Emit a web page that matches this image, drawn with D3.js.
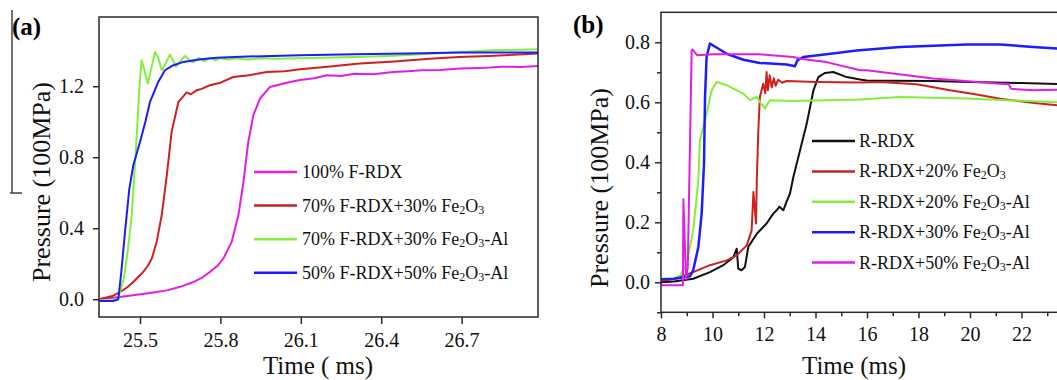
<!DOCTYPE html>
<html>
<head>
<meta charset="utf-8">
<script src="https://cdn.jsdelivr.net/npm/d3@7"></script>
<style>
body { margin: 0; background: #fff; }
svg { display: block; font-family: "Liberation Serif", "Times New Roman", serif; }
</style>
</head>
<body>
<svg id="chart" width="1057" height="380"></svg>
<script>
// ---- panel (a): F-RDX mixtures, time in ms, pressure in 100MPa
const a100_t = [25.347, 25.40, 25.475, 25.55, 25.60, 25.65, 25.699, 25.73, 25.761, 25.79, 25.811, 25.842, 25.867, 25.886, 25.904, 25.923, 25.948, 25.985, 26.047, 26.097, 26.15, 26.197, 26.25, 26.3, 26.37, 26.445, 26.5, 26.55, 26.62, 26.694, 26.77, 26.85, 26.92, 26.985]
const a100_p = [0.0, 0.008, 0.022, 0.038, 0.05, 0.07, 0.097, 0.12, 0.154, 0.19, 0.229, 0.323, 0.473, 0.661, 0.886, 1.037, 1.131, 1.196, 1.22, 1.235, 1.245, 1.262, 1.258, 1.27, 1.268, 1.28, 1.285, 1.29, 1.292, 1.30, 1.302, 1.31, 1.309, 1.314]

const a70fe_t = [25.347, 25.40, 25.425, 25.45, 25.475, 25.50, 25.512, 25.53, 25.544, 25.562, 25.581, 25.60, 25.618, 25.643, 25.66, 25.674, 25.69, 25.711, 25.73, 25.761, 25.8, 25.848, 25.9, 25.973, 26.04, 26.097, 26.2, 26.32, 26.45, 26.58, 26.69, 26.8, 26.985]
const a70fe_p = [0.0, 0.02, 0.04, 0.065, 0.097, 0.135, 0.154, 0.19, 0.229, 0.323, 0.473, 0.699, 0.943, 1.11, 1.14, 1.165, 1.155, 1.177, 1.185, 1.206, 1.22, 1.252, 1.26, 1.28, 1.285, 1.295, 1.31, 1.328, 1.34, 1.355, 1.365, 1.37, 1.384]

const a70al_t = [25.347, 25.40, 25.418, 25.44, 25.455, 25.469, 25.485, 25.498, 25.506, 25.515, 25.529, 25.542, 25.556, 25.568, 25.581, 25.596, 25.612, 25.623, 25.634, 25.650, 25.668, 25.685, 25.70, 25.72, 25.74, 25.76, 25.78, 25.80, 25.83, 25.86, 25.90, 25.95, 26.0, 26.1, 26.3, 26.45, 26.6, 26.82, 26.985]
const a70al_p = [-0.005, -0.005, 0.0, 0.12, 0.28, 0.47, 0.85, 1.2, 1.346, 1.30, 1.215, 1.30, 1.393, 1.36, 1.29, 1.33, 1.378, 1.345, 1.31, 1.34, 1.371, 1.345, 1.335, 1.36, 1.34, 1.362, 1.345, 1.358, 1.35, 1.358, 1.35, 1.357, 1.355, 1.358, 1.365, 1.372, 1.385, 1.403, 1.408]

const a50al_t = [25.347, 25.40, 25.419, 25.43, 25.444, 25.46, 25.475, 25.50, 25.52, 25.537, 25.568, 25.593, 25.62, 25.662, 25.72, 25.786, 25.9, 26.097, 26.3, 26.5, 26.7, 26.985]
const a50al_p = [-0.01, -0.01, 0.0, 0.15, 0.379, 0.62, 0.755, 0.886, 1.0, 1.11, 1.224, 1.29, 1.315, 1.337, 1.35, 1.36, 1.367, 1.375, 1.38, 1.385, 1.39, 1.39]

const legendA = ["100% F-RDX", "70% F-RDX+30% Fe2O3", "70% F-RDX+30% Fe2O3-Al", "50% F-RDX+50% Fe2O3-Al"]
const colorsA = ["#e01ee6", "#cf2020", "#80f03a", "#1c1cff"]
const xTicksA = [25.5, 25.8, 26.1, 26.4, 26.7]
const yTicksA = [0.0, 0.4, 0.8, 1.2]

// ---- panel (b): R-RDX mixtures
const bRdx_t = [8, 8.5, 9.25, 9.9, 10.42, 10.81, 10.94, 11.0, 11.13, 11.26, 11.39, 11.72, 12.1, 12.36, 12.49, 12.6, 12.75, 12.88, 13.01, 13.14, 13.4, 13.66, 13.92, 14.11, 14.37, 14.69, 15.21, 15.73, 15.99, 17, 18.57, 20, 22, 24]
const bRdx_p = [0.0, 0.003, 0.012, 0.034, 0.057, 0.084, 0.112, 0.046, 0.04, 0.051, 0.118, 0.162, 0.196, 0.229, 0.24, 0.252, 0.24, 0.27, 0.296, 0.351, 0.44, 0.529, 0.64, 0.684, 0.698, 0.701, 0.684, 0.676, 0.673, 0.672, 0.671, 0.668, 0.664, 0.66]

const bFe20_t = [8, 8.5, 9.25, 9.9, 10.55, 10.94, 11.33, 11.52, 11.59, 11.69, 11.72, 11.78, 11.84, 11.97, 12.05, 12.10, 12.15, 12.22, 12.3, 12.38, 12.45, 12.55, 12.7, 12.88, 14, 15.73, 16.5, 17.93, 19.22, 20.2, 21.17, 22.5, 24]
const bFe20_p = [0.005, 0.01, 0.034, 0.057, 0.073, 0.09, 0.123, 0.173, 0.301, 0.196, 0.34, 0.507, 0.618, 0.662, 0.63, 0.701, 0.64, 0.69, 0.65, 0.68, 0.655, 0.675, 0.665, 0.671, 0.668, 0.666, 0.668, 0.66, 0.64, 0.627, 0.612, 0.598, 0.585]

const bAl20_t = [8, 8.5, 8.74, 9.0, 9.25, 9.45, 9.51, 9.77, 9.97, 10.16, 10.55, 10.94, 11.2, 11.46, 11.72, 11.85, 12.04, 12.23, 13.14, 15.73, 17.28, 19.87, 22, 24]
const bAl20_p = [0.01, 0.012, 0.023, 0.062, 0.173, 0.34, 0.473, 0.562, 0.64, 0.668, 0.657, 0.64, 0.629, 0.607, 0.618, 0.6, 0.579, 0.607, 0.604, 0.609, 0.618, 0.613, 0.605, 0.598]

const bAl30_t = [8, 8.5, 9.13, 9.25, 9.45, 9.58, 9.64, 9.67, 9.71, 9.77, 9.9, 10.55, 11.2, 11.84, 12.88, 13.2, 13.3, 13.53, 14.43, 15.6, 17.28, 19.87, 21.17, 22.46, 23.37, 24]
const bAl30_p = [0.01, 0.012, 0.02, 0.04, 0.118, 0.23, 0.34, 0.396, 0.618, 0.751, 0.796, 0.762, 0.742, 0.731, 0.726, 0.72, 0.74, 0.751, 0.76, 0.773, 0.784, 0.793, 0.793, 0.784, 0.779, 0.776]

const bAl50_t = [8, 8.85, 8.87, 8.97, 9.04, 9.19, 9.23, 9.4, 10, 11.84, 13.14, 13.4, 14.43, 15.73, 15.99, 18.57, 21.17, 21.5, 21.6, 22.45, 23.37, 24]
const bAl50_p = [-0.01, -0.01, 0.277, 0.01, 0.05, 0.773, 0.776, 0.757, 0.76, 0.76, 0.751, 0.745, 0.734, 0.707, 0.707, 0.679, 0.662, 0.66, 0.645, 0.64, 0.642, 0.64]

const legendB = ["R-RDX", "R-RDX+20% Fe2O3", "R-RDX+20% Fe2O3-Al", "R-RDX+30% Fe2O3-Al", "R-RDX+50% Fe2O3-Al"]
const colorsB = ["#111111", "#cf2020", "#80f03a", "#1c1cff", "#e01ee6"]
const xTicksB = [8, 10, 12, 14, 16, 18, 20, 22]
const xMinorB = [9, 11, 13, 15, 17, 19, 21, 23]
const yTicksB = [0.0, 0.2, 0.4, 0.6, 0.8]
const yMinorB = [-0.1, 0.1, 0.3, 0.5, 0.7]

const svg = d3.select("#chart")
const axisColor = "#2a2a2a"

function zip(t, p) { return t.map((d, i) => [d, p[i]]) }

// legend text with Fe2O3 subscripts
function labelText(sel, str) {
    const parts = str.split("Fe2O3")
    sel.append("tspan").text(parts[0])
    if (parts.length > 1) {
        sel.append("tspan").text("Fe")
        sel.append("tspan").attr("font-size", 12).attr("dy", 2).text("2")
        sel.append("tspan").attr("dy", -2).text("O")
        sel.append("tspan").attr("font-size", 12).attr("dy", 2).text("3")
        sel.append("tspan").attr("dy", -2).text(parts[1])
    }
}

function styleAxis(g) {
    g.select(".domain").remove()
    g.selectAll(".tick line").attr("stroke", axisColor).attr("stroke-width", 1.5)
    g.selectAll(".tick text").attr("fill", "#111").attr("font-size", 20)
        .attr("font-family", "Liberation Serif, Times New Roman, serif")
}

// ================= panel (a)
const xA = d3.scaleLinear().domain([25.347, 26.985]).range([99, 538])
const yA = d3.scaleLinear().domain([-0.1, 1.59]).range([317, 17])

const seriesA = [
    {name: legendA[0], data: zip(a100_t, a100_p), color: colorsA[0]},
    {name: legendA[1], data: zip(a70fe_t, a70fe_p), color: colorsA[1]},
    {name: legendA[2], data: zip(a70al_t, a70al_p), color: colorsA[2]},
    {name: legendA[3], data: zip(a50al_t, a50al_p), color: colorsA[3]}
]

svg.append("clipPath").attr("id", "clipA")
    .append("rect").attr("x", 99).attr("y", 17).attr("width", 439).attr("height", 300)

const lineA = d3.line().x(d => xA(d[0])).y(d => yA(d[1]))

svg.append("g").attr("clip-path", "url(#clipA)")
    .selectAll("path")
    .data(seriesA)
    .enter()
    .append("path")
        .attr("d", d => lineA(d.data))
        .attr("fill", "none")
        .attr("stroke", d => d.color)
        .attr("stroke-width", 2)
        .attr("stroke-linejoin", "round")

svg.append("rect")
    .attr("x", 99).attr("y", 17).attr("width", 439).attr("height", 300)
    .attr("fill", "none").attr("stroke", axisColor).attr("stroke-width", 1.5)

svg.append("g")
    .attr("transform", "translate(0,317)")
    .call(d3.axisBottom(xA).tickValues(xTicksA).tickFormat(d3.format(".1f")).tickSize(7).tickPadding(9))
    .call(styleAxis)

svg.append("g")
    .attr("transform", "translate(99,0)")
    .call(d3.axisLeft(yA).tickValues(yTicksA).tickFormat(d3.format(".1f")).tickSize(6).tickPadding(9))
    .call(styleAxis)

const legA = svg.append("g")
seriesA.forEach((s, i) => {
    const yy = 172 + i * 33.6
    legA.append("line").attr("x1", 254).attr("x2", 297).attr("y1", yy).attr("y2", yy)
        .attr("stroke", s.color).attr("stroke-width", 2.5)
    legA.append("text").attr("x", 302).attr("y", yy).attr("dy", "0.33em")
        .attr("font-size", 18).attr("fill", "#111")
        .call(labelText, s.name)
})

svg.append("text").attr("x", 12).attr("y", 35)
    .attr("font-size", 25).attr("font-weight", "bold").text("(a)")

svg.append("text")
    .attr("transform", "translate(50,182) rotate(-90)")
    .attr("text-anchor", "middle").attr("font-size", 26).attr("fill", "#111")
    .text("Pressure (100MPa)")

svg.append("text").attr("x", 318).attr("y", 374)
    .attr("text-anchor", "middle").attr("font-size", 25).attr("fill", "#111")
    .text("Time ( ms)")

// stray rule at the left edge of the original figure
svg.append("path").attr("d", "M12,10V193M10,193H22")
    .attr("fill", "none").attr("stroke", "#444").attr("stroke-width", 1.5)

// ================= panel (b)
const xB = d3.scaleLinear().domain([8, 24]).range([661, 1073])
const yB = d3.scaleLinear().domain([-0.1, 0.9]).range([312.3, 12.3])

const seriesB = [
    {name: legendB[0], data: zip(bRdx_t, bRdx_p), color: colorsB[0]},
    {name: legendB[1], data: zip(bFe20_t, bFe20_p), color: colorsB[1]},
    {name: legendB[2], data: zip(bAl20_t, bAl20_p), color: colorsB[2]},
    {name: legendB[3], data: zip(bAl30_t, bAl30_p), color: colorsB[3]},
    {name: legendB[4], data: zip(bAl50_t, bAl50_p), color: colorsB[4]}
]

const lineB = d3.line().x(d => xB(d[0])).y(d => yB(d[1]))

svg.append("g")
    .selectAll("path")
    .data(seriesB)
    .enter()
    .append("path")
        .attr("d", d => lineB(d.data))
        .attr("fill", "none")
        .attr("stroke", d => d.color)
        .attr("stroke-width", d => d.color == colorsB[3] ? 2.5 : 2)
        .attr("stroke-linejoin", "round")

svg.append("rect")
    .attr("x", 661).attr("y", 12.3).attr("width", 412).attr("height", 300)
    .attr("fill", "none").attr("stroke", axisColor).attr("stroke-width", 1.5)

svg.append("g")
    .attr("transform", "translate(0,312.3)")
    .call(d3.axisBottom(xB).tickValues(xTicksB).tickFormat(d3.format("d")).tickSize(6).tickPadding(9))
    .call(styleAxis)
svg.append("g")
    .attr("transform", "translate(0,312.3)")
    .call(d3.axisBottom(xB).tickValues(xMinorB).tickFormat("").tickSize(4))
    .call(styleAxis)

svg.append("g")
    .attr("transform", "translate(661,0)")
    .call(d3.axisLeft(yB).tickValues(yTicksB).tickFormat(d3.format(".1f")).tickSize(6).tickPadding(5))
    .call(styleAxis)
svg.append("g")
    .attr("transform", "translate(661,0)")
    .call(d3.axisLeft(yB).tickValues(yMinorB).tickFormat("").tickSize(4))
    .call(styleAxis)

const legB = svg.append("g")
seriesB.forEach((s, i) => {
    const yy = 141 + i * 30.4
    legB.append("line").attr("x1", 812).attr("x2", 855).attr("y1", yy).attr("y2", yy)
        .attr("stroke", s.color).attr("stroke-width", 2.5)
    legB.append("text").attr("x", 859).attr("y", yy).attr("dy", "0.33em")
        .attr("font-size", 18).attr("fill", "#111")
        .call(labelText, s.name)
})

svg.append("text").attr("x", 573).attr("y", 33)
    .attr("font-size", 25).attr("font-weight", "bold").text("(b)")

svg.append("text")
    .attr("transform", "translate(608,188) rotate(-90)")
    .attr("text-anchor", "middle").attr("font-size", 26).attr("fill", "#111")
    .text("Pressure (100MPa)")

svg.append("text").attr("x", 854).attr("y", 374)
    .attr("text-anchor", "middle").attr("font-size", 25).attr("fill", "#111")
    .text("Time (ms)")
</script>
</body>
</html>
